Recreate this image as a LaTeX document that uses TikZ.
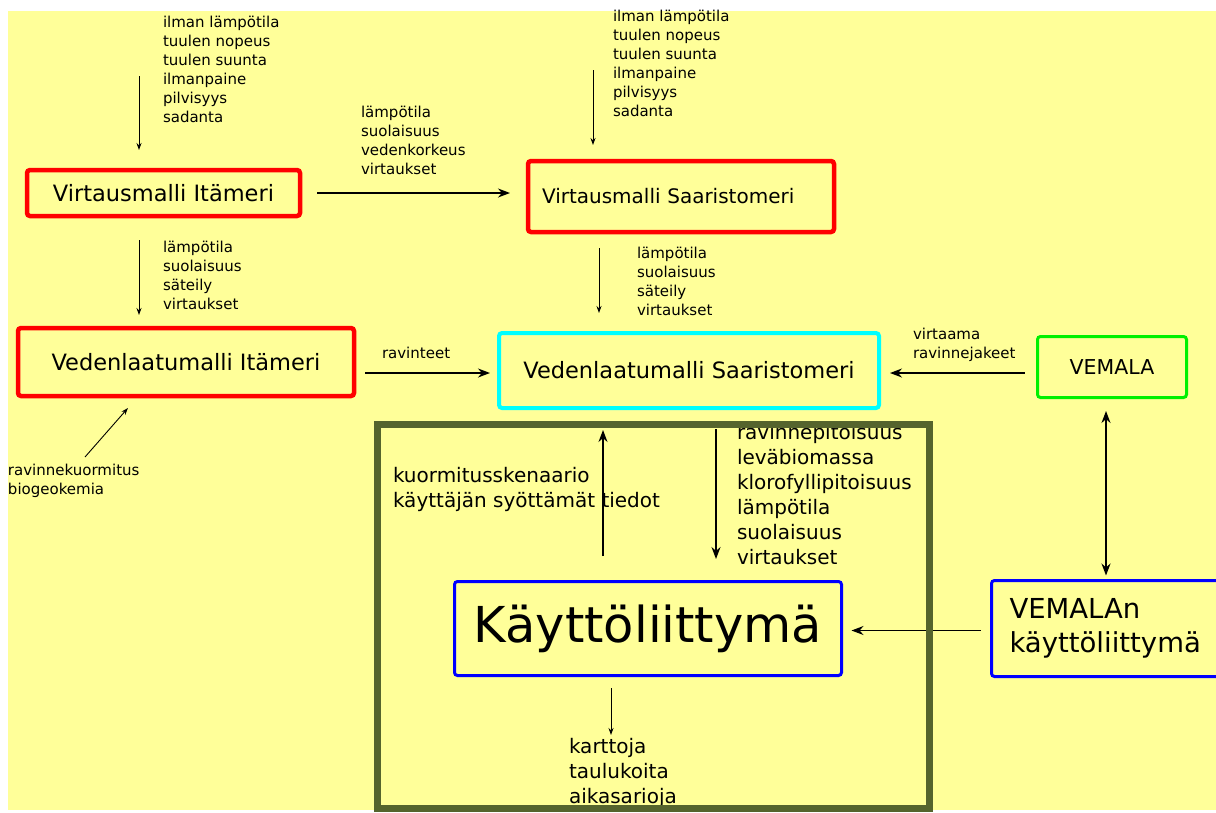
\documentclass[tikz,border=0pt]{standalone}
\usepackage{fontspec}
\setmainfont{DejaVu Sans}
\usepackage{xcolor}
\usetikzlibrary{arrows.meta}
\definecolor{paper}{RGB}{255,255,153}
\definecolor{vgreen}{RGB}{0,240,0}
\definecolor{vcyan}{RGB}{0,255,255}
\definecolor{frameolive}{RGB}{85,100,45}

\begin{document}
\begin{tikzpicture}[x=1pt, y=-1pt, >=Stealth,
  every node/.style={inner sep=0pt, outer sep=0pt},
  model/.style={draw, rounded corners=3pt, line width=4.5pt, align=center},
  ui/.style={draw=blue, rounded corners=3pt, line width=3pt},
  datalist/.style={anchor=west, align=left, font=\fontsize{15}{19}\selectfont},
  biglist/.style={anchor=west, align=left, font=\fontsize{20}{25}\selectfont},
  thinarrow/.style={->, line width=0.9pt, >={Stealth[length=7pt,width=5pt]}},
  mainarrow/.style={->, line width=1.4pt, >={Stealth[length=12pt,width=9pt]}}]

\useasboundingbox (0,0) rectangle (1216,812);

% Background
\fill[white] (0,0) rectangle (1216,812);
\fill[paper] (8,11) rectangle (1216,810);

% Models
\node[model, draw=red, minimum width=273pt, minimum height=46pt, font=\fontsize{22.5}{27}\selectfont] (vmi) at (163.5,193) {Virtausmalli Itämeri};
\node[model, draw=red, minimum width=336pt, minimum height=68pt, font=\fontsize{22.5}{27}\selectfont] (vli) at (186,362) {Vedenlaatumalli Itämeri};
\node[model, draw=red, align=left, text width=278pt, inner xsep=14pt, minimum height=71pt, font=\fontsize{20}{24}\selectfont] (vms) at (681,196.5) {Virtausmalli Saaristomeri};
\node[model, draw=vcyan, line width=4pt, minimum width=380pt, minimum height=75pt, font=\fontsize{22.5}{27}\selectfont] (vls) at (689,370.5) {Vedenlaatumalli Saaristomeri};
\node[model, draw=vgreen, line width=3pt, minimum width=149pt, minimum height=61pt, font=\fontsize{20.5}{24}\selectfont] (vem) at (1112,367) {VEMALA};

% User interfaces
\node[ui, minimum width=387pt, minimum height=94pt, font=\fontsize{49.5}{58}\selectfont] (kl) at (648,628.5) {Käyttöliittymä};
\node[ui, align=left, text width=203pt, inner xsep=18pt, minimum height=96pt, font=\fontsize{27.5}{34}\selectfont] (vemk) at (1111,628.5) {VEMALAn\\käyttöliittymä};

% Weather inputs
\node[datalist] (wxI) at (163,69) {ilman lämpötila\\tuulen nopeus\\tuulen suunta\\ilmanpaine\\pilvisyys\\sadanta};
\node[datalist] (wxS) at (613,63.5) {ilman lämpötila\\tuulen nopeus\\tuulen suunta\\ilmanpaine\\pilvisyys\\sadanta};
\coordinate (wxIin) at (139,76);
\coordinate (wxSin) at (593,70);
\draw[thinarrow, shorten >=20pt] (wxIin) -- (wxIin |- vmi.north);
\draw[thinarrow, shorten >=16pt] (wxSin) -- (wxSin |- vms.north);

% Boundary values Itämeri -> Saaristomeri
\node[datalist] (flowI) at (361,140.5) {lämpötila\\suolaisuus\\vedenkorkeus\\virtaukset};
\draw[mainarrow, shorten <=17pt, shorten >=18pt] (vmi.east) -- (vmi.east -| vms.west);

% Physics to water quality
\node[datalist] (physI) at (163,275) {lämpötila\\suolaisuus\\säteily\\virtaukset};
\node[datalist] (physS) at (637,281) {lämpötila\\suolaisuus\\säteily\\virtaukset};
\draw[thinarrow, shorten <=24pt, shorten >=13pt] (wxIin |- vmi.south) -- (wxIin |- vli.north);
\coordinate (dS) at ([xshift=-82pt]vms.south);
\draw[thinarrow, shorten <=16pt, shorten >=20pt] (dS) -- (dS |- vls.north);

% Nutrients
\node[datalist] (nutr) at (382,353) {ravinteet};
\coordinate (nI) at ([yshift=-11pt]vli.east);
\draw[mainarrow, shorten <=11pt, shorten >=9pt] (nI) -- (nI -| vls.west);

\node[datalist] (loadtxt) at (8,481) {ravinnekuormitus\\biogeokemia};
\coordinate (load) at (85,457);
\draw[thinarrow, shorten >=16pt] (load) -- ([xshift=-47.5pt]vli.south);

% VEMALA
\node[datalist] (runoff) at (913,345) {virtaama\\ravinnejakeet};
\coordinate (vemW) at ([yshift=-6pt]vem.west);
\draw[mainarrow, shorten <=13pt, shorten >=11pt] (vemW) -- (vemW -| vls.east);
\coordinate (vemS) at ([xshift=-6pt]vem.south);
\draw[mainarrow, <->, shorten <=13.5pt, shorten >=5pt] (vemS) -- (vemS |- vemk.north);
\coordinate (vemkW) at ([yshift=-2pt]vemk.west);
\draw[mainarrow, line width=1.1pt, shorten <=11pt, shorten >=10pt] (vemkW) -- (vemkW -| kl.east);

% Käyttöliittymä links
\node[biglist] (scen) at (393,489) {kuormitusskenaario\\käyttäjän syöttämät tiedot};
\node[biglist] (results) at (737,495) {ravinnepitoisuus\\leväbiomassa\\klorofyllipitoisuus\\lämpötila\\suolaisuus\\virtaukset};
\coordinate (upK) at ([xshift=-45pt]kl.north);
\draw[mainarrow, shorten <=25.5pt, shorten >=22pt] (upK) -- (upK |- vls.south);
\coordinate (dnK) at ([xshift=27pt]vls.south);
\draw[mainarrow, shorten <=21pt, shorten >=22.5pt] (dnK) -- (dnK |- kl.north);

\node[biglist] (outputs) at (569,773) {karttoja\\taulukoita\\aikasarioja};
\coordinate (outK) at (611,735);
\draw[thinarrow, shorten <=12.5pt] ([xshift=-37pt]kl.south) -- (outK);

% Frame round the user interface part
\draw[frameolive, line width=7pt] (377,424) rectangle (929,808);

\end{tikzpicture}
\end{document}
